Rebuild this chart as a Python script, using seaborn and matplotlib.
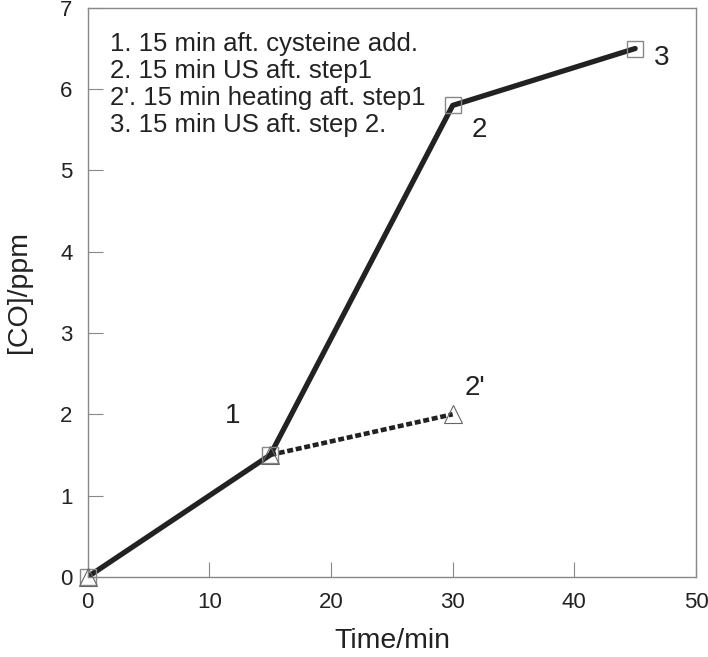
import numpy as np
import pandas as pd
import matplotlib
matplotlib.use('Agg')
import matplotlib.pyplot as plt
import seaborn as sns

# data
time_us = [0, 15, 30, 45]
co_us = [0, 1.5, 5.8, 6.5]
time_heat = [15, 30]
co_heat = [1.5, 2.0]
tri_time = [0, 15, 30]
tri_co = [0, 1.5, 2.0]

point_labels = ['1', '2', "2'", '3']
label_x = [11.9, 32.2, 31.8, 47.2]
label_y = [1.98, 5.5, 2.32, 6.38]

legend_lines = ['1. 15 min aft. cysteine add.',
                '2. 15 min US aft. step1',
                "2'. 15 min heating aft. step1",
                '3. 15 min US aft. step 2.']


def main():
    sns.set_theme(style='white')
    plt.rcParams['font.family'] = ['Liberation Sans', 'DejaVu Sans']

    fig = plt.figure(figsize=(7.08, 6.57), dpi=100)
    ax = fig.add_axes([0.124, 0.122, 0.859, 0.866])

    us = pd.DataFrame({'t': time_us, 'co': co_us})
    heat = pd.DataFrame({'t': time_heat, 'co': co_heat})
    tri = pd.DataFrame({'t': tri_time, 'co': tri_co})

    sns.lineplot(data=us, x='t', y='co', ax=ax, color='#222222', lw=3.8, zorder=2)
    sns.lineplot(data=heat, x='t', y='co', ax=ax, color='#222222', lw=3.3,
                 linestyle=(0, (1.3, 0.6)), zorder=2)
    ax.plot(us['t'], us['co'], ls='none', marker='s', ms=12, mfc='none',
            mec='#888888', mew=1, zorder=3, clip_on=False)
    ax.plot(tri['t'], tri['co'], ls='none', marker='^', ms=13, mfc='none',
            mec='#666666', mew=0.8, zorder=3, clip_on=False)

    for lab, x, y in zip(point_labels, label_x, label_y):
        ax.text(x, y, lab, fontsize=20, color='#222222', ha='center', va='center')

    for i, line in enumerate(legend_lines):
        ax.text(1.8, 6.55 - i * 0.33, line, fontsize=18.5, color='#222222',
                ha='left', va='center')

    ax.set_xlim(0, 50)
    ax.set_ylim(0, 7)
    ax.set_xticks(range(0, 51, 10))
    ax.set_yticks(range(0, 8))
    ax.tick_params(direction='in', length=11, width=0.8, color='#888888',
                   labelsize=16, labelcolor='#222222', pad=11,
                   bottom=True, left=True)
    for s in ax.spines.values():
        s.set_color('#888888')
        s.set_linewidth(1)
    ax.set_xlabel('Time/min', fontsize=20.5, color='#222222', labelpad=11)
    ax.set_ylabel('[CO]/ppm', fontsize=20.5, color='#222222', labelpad=20)

    fig.savefig('out.png', dpi=100)


if __name__ == '__main__':
    main()
